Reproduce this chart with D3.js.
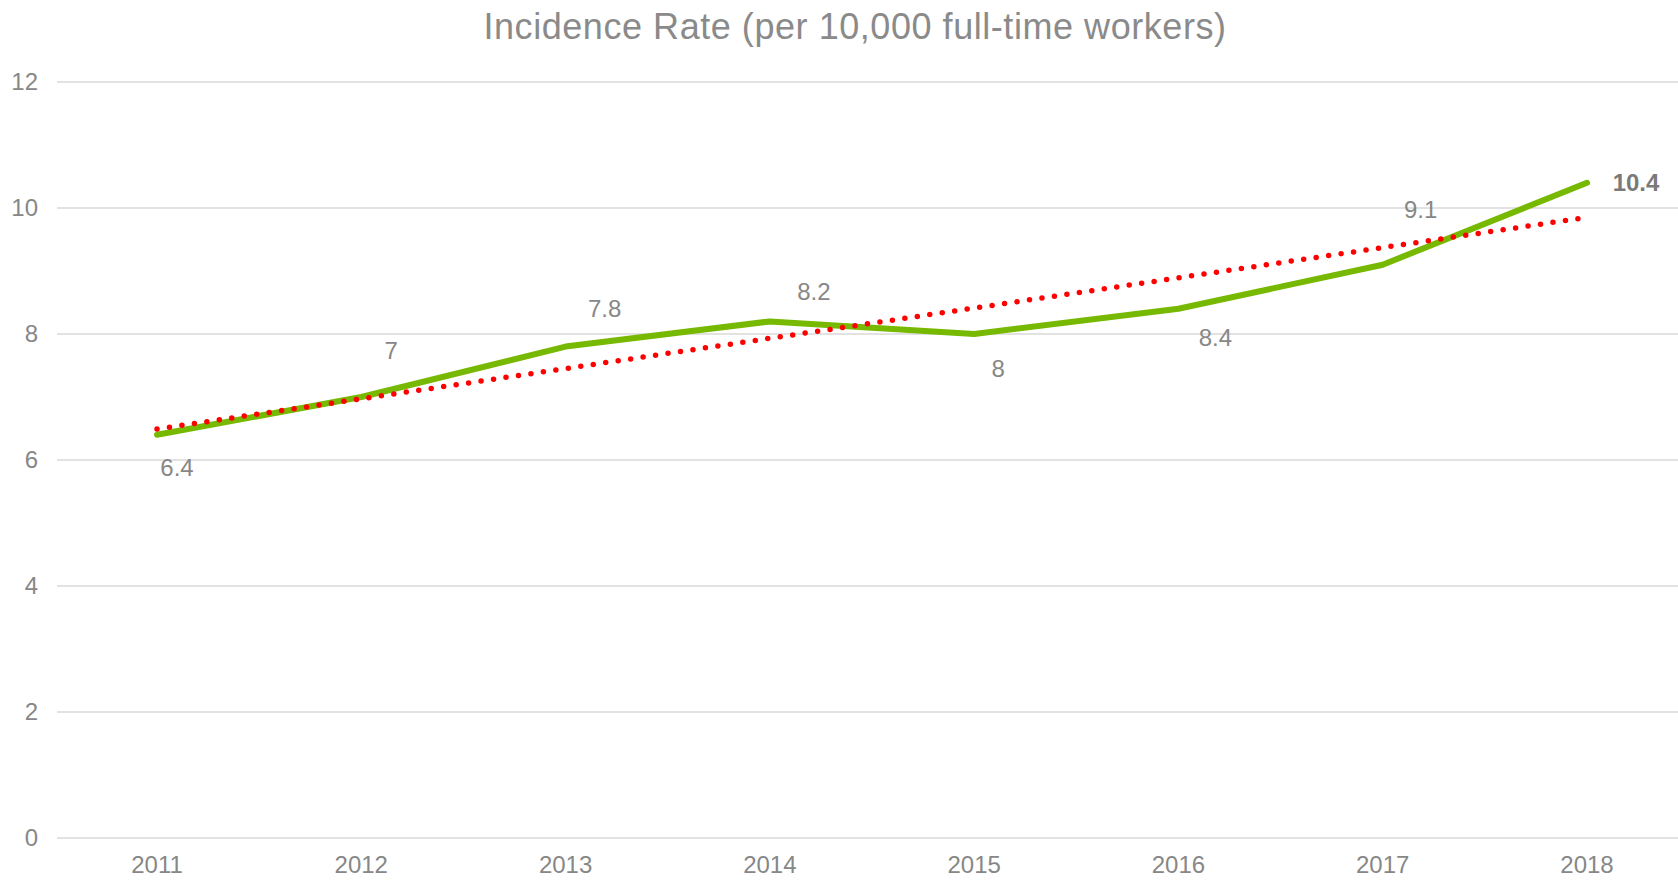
<!DOCTYPE html>
<html>
<head>
<meta charset="utf-8">
<script src="https://cdn.jsdelivr.net/npm/d3@7"></script>
<style>
  body { margin: 0; background: #fff; }
  svg text { font-family: "Liberation Sans", Arial, sans-serif; }
</style>
</head>
<body>
<svg id="chart" width="1678" height="880"></svg>
<script>
var years = ["2011", "2012", "2013", "2014", "2015", "2016", "2017", "2018"];
var rates = [6.4, 7, 7.8, 8.2, 8, 8.4, 9.1, 10.4];
var yTicks = [0, 2, 4, 6, 8, 10, 12];
// where each data label sits relative to its point (style, not data)
var labelNudge = [[20, 35], [30, -44], [39, -36], [44, -28], [24, 37], [37, 31], [38, -53], [49, 2]];

var width = 1678, height = 880;
var svg = d3.select("#chart");

var x = d3.scalePoint().domain(years).range([157, 1587]);
var y = d3.scaleLinear().domain([0, 12]).range([838, 82]);

// title
svg.append("text")
  .attr("x", 855).attr("y", 29)
  .attr("text-anchor", "middle").attr("dominant-baseline", "middle")
  .attr("fill", "#8a8a8a").attr("font-size", 36)
  .attr("letter-spacing", 0.55)
  .text("Incidence Rate (per 10,000 full-time workers)");

// gridlines + y labels
var grid = svg.append("g");
yTicks.forEach(function(t){
  grid.append("line")
    .attr("x1", 57).attr("x2", width)
    .attr("y1", y(t)).attr("y2", y(t))
    .attr("stroke", "#e2e2e2").attr("stroke-width", 2);
  grid.append("text")
    .attr("x", 38).attr("y", y(t) + 2)
    .attr("text-anchor", "end").attr("dominant-baseline", "middle")
    .attr("fill", "#878787").attr("font-size", 24)
    .text(t);
});

// x labels
svg.append("g").selectAll("text").data(years).enter().append("text")
  .attr("x", function(d){ return x(d); })
  .attr("y", 867)
  .attr("text-anchor", "middle").attr("dominant-baseline", "middle")
  .attr("fill", "#878787").attr("font-size", 24)
  .text(function(d){ return d; });

// main series
var line = d3.line()
  .x(function(d, i){ return x(years[i]); })
  .y(function(d){ return y(d); });

svg.append("path")
  .datum(rates)
  .attr("d", line)
  .attr("fill", "none")
  .attr("stroke", "#76b900")
  .attr("stroke-width", 6)
  .attr("stroke-linejoin", "round")
  .attr("stroke-linecap", "round");

// linear trendline (least squares over the series)
var n = rates.length;
var mx = d3.mean(rates, function(d, i){ return i; }), my = d3.mean(rates);
var sxy = d3.sum(rates, function(d, i){ return (i - mx) * (d - my); });
var sxx = d3.sum(rates, function(d, i){ return (i - mx) * (i - mx); });
var slope = sxy / sxx, icpt = my - slope * mx;
var trend = [0, n - 1].map(function(i){ return [i, icpt + slope * i]; });

svg.append("path")
  .datum(trend)
  .attr("d", d3.line()
    .x(function(d){ return x(years[d[0]]) - (d[0] ? 8 : 0); })
    .y(function(d){ return y(d[1]); }))
  .attr("fill", "none")
  .attr("stroke", "#ff0000")
  .attr("stroke-width", 5.5)
  .attr("stroke-linecap", "round")
  .attr("stroke-dasharray", "0 12.6");

// data labels
svg.append("g").selectAll("text").data(rates).enter().append("text")
  .attr("x", function(d, i){ return x(years[i]) + labelNudge[i][0]; })
  .attr("y", function(d, i){ return y(d) + labelNudge[i][1]; })
  .attr("text-anchor", "middle").attr("dominant-baseline", "middle")
  .attr("fill", function(d, i){ return i === n - 1 ? "#7a7a7a" : "#878787"; })
  .attr("font-size", 24)
  .attr("font-weight", function(d, i){ return i === n - 1 ? "bold" : "normal"; })
  .text(function(d){ return d; });
</script>
</body>
</html>
